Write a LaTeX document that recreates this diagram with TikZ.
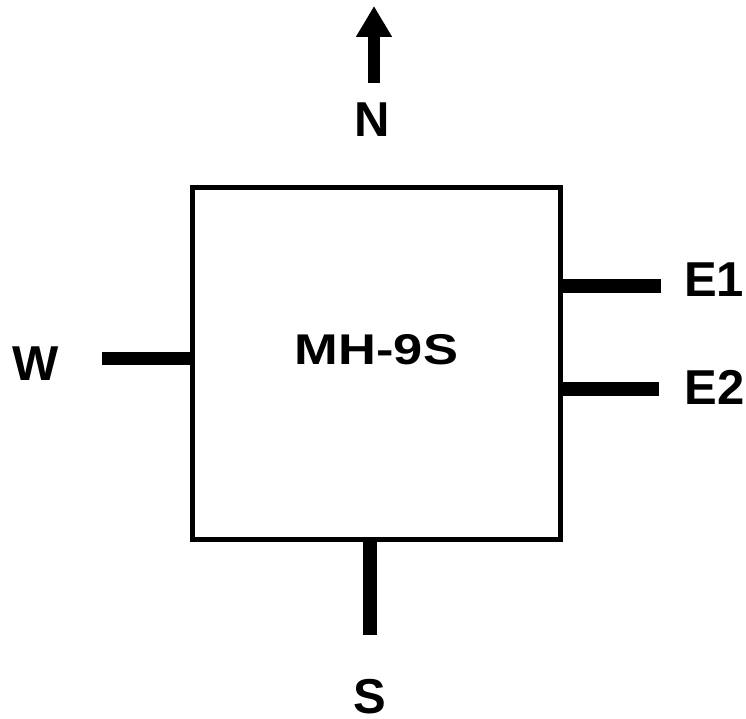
\documentclass[tikz,border=0pt]{standalone}
\usepackage{fontspec}
\setmainfont{Liberation Sans}
\usetikzlibrary{arrows.meta}

\begin{document}
\begin{tikzpicture}[x=1pt,y=1pt,
    port/.style={line width=13.5pt},
    lbl/.style={inner sep=0pt,font=\bfseries\fontsize{49}{49}\selectfont}]
  \useasboundingbox (0,0) rectangle (746,719);

  \coordinate (A) at (192.5,179);
  \coordinate (B) at (560.5,179);
  \coordinate (C) at (560.5,531.5);
  \coordinate (D) at (192.5,531.5);

  \coordinate (Wi) at (192.5,360.5);
  \coordinate (Wo) at (102,360.5);
  \coordinate (E1i) at (560.5,433);
  \coordinate (E1o) at (661,433);
  \coordinate (E2i) at (560.5,330);
  \coordinate (E2o) at (659,330);
  \coordinate (Si) at (370,179);
  \coordinate (So) at (370,84);
  \coordinate (Nb) at (374,636);
  \coordinate (Nt) at (374,713);

  \draw[line width=5pt] (A) -- (B) -- (C) -- (D) -- cycle;
  \draw[port] (Wi) -- (Wo);
  \draw[port] (E1i) -- (E1o);
  \draw[port] (E2i) -- (E2o);
  \draw[port] (Si) -- (So);
  \draw[line width=12pt,-{Triangle[width=34pt,length=31pt]}] (Nb) -- (Nt);

  \node[lbl] (n) at (372,599.5) {N};
  \node[lbl] (w) at (35.5,355.5) {W};
  \node[lbl] (e1) at (714,439.5) {E1};
  \node[lbl] (e2) at (714.5,331.5) {E2};
  \node[lbl] (s) at (370,22.5) {S};
  \node[lbl,font=\bfseries\fontsize{43}{43}\selectfont,xscale=1.22] (mh) at (376.5,369) {MH-9S};
\end{tikzpicture}
\end{document}
